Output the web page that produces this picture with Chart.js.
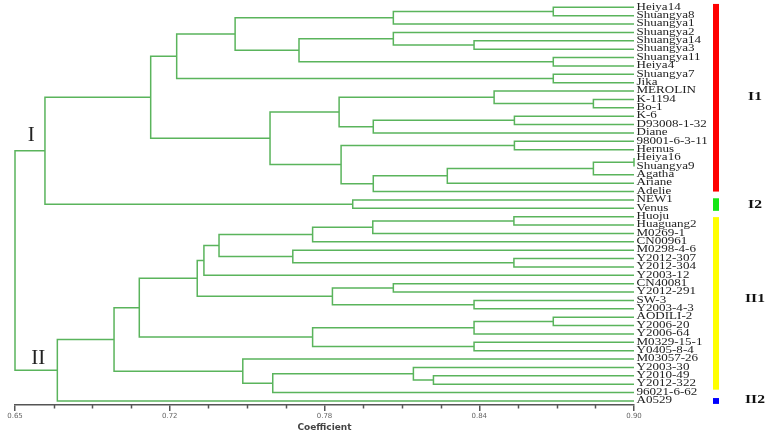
<!DOCTYPE html>
<html><head><meta charset="utf-8">
<script src="https://cdn.jsdelivr.net/npm/chart.js@4/dist/chart.umd.min.js"></script>
<style>html,body{margin:0;padding:0;background:#fff;}#wrap{width:773px;height:434px;}</style>
</head><body><div id="wrap"><canvas id="c" width="773" height="434"></canvas></div>
<script>
const leafLabels = ['Heiya14','Shuangya8','Shuangya1','Shuangya2','Shuangya14','Shuangya3','Shuangya11','Heiya4','Shuangya7','Jika','MEROLIN','K-1194','Bo-1','K-6','D93008-1-32','Diane','98001-6-3-11','Hernus','Heiya16','Shuangya9','Agatha','Ariane','Adelie','NEW1','Venus','Huoju','Huaguang2','M0269-1','CN00961','M0298-4-6','Y2012-307','Y2012-304','Y2003-12','CN40081','Y2012-291','SW-3','Y2003-4-3','AODILI-2','Y2006-20','Y2006-64','M0329-15-1','Y0405-8-4','M03057-26','Y2003-30','Y2010-49','Y2012-322','96021-6-62','A0529'];
// merges (linkage): children ids (leaf index, or 48 + merge index) and coefficient of the join
const mergeLeft  = [0,48,4,3,6,51,49,8,54, 11,10,13,59,58,16,18,63,64,65,62,61,56,23,69,
                    25,72,73,30,29,74,77,33,35,79,78,37,83,40,84,82, 44,43,89,42,87,92,71];
const mergeRight = [1,2,5,50,7,52,53,9,55, 12,57,14,15,60,17,19,20,21,22,66,67,68,24,70,
                    26,27,28,31,75,76,32,34,36,80,81,38,39,41,85,86, 45,88,46,90,91,47,93];
const mergeHeight = [0.8674,0.8028,0.8354,0.8028,0.8674,0.7647,0.7389,0.8674,0.7153,
                     0.8836,0.8435,0.8517,0.7947,0.7809,0.8517,0.9000,0.8836,0.8246,0.7947,0.7817,0.7530,0.7048,0.7864,0.6621,
                     0.8515,0.7945,0.7702,0.8515,0.7622,0.7324,0.7263,0.8028,0.8354,0.7782,0.7236,0.8674,0.8354,0.8354,0.7702,0.7002,
                     0.8190,0.8109,0.7541,0.7420,0.6900,0.6671,0.6500];
const tickValues = [0.65, 0.7125, 0.775, 0.8375, 0.90];
const tickLabels = ['0.65','0.72','0.78','0.84','0.90'];
const groupNames = ['I1','I2','II1','II2'];
const groupColors = ['#ff0000','#14e614','#ffff00','#0000ff'];
const groupTop = [-0.4, 22.8, 25.05, 46.65];
const groupBottom = [22.0, 24.3, 45.65, 47.35];
const groupLabelPos = [10.67, 23.57, 34.8, 46.86];
const clusterNames = ['I','II'];
const clusterX = [0.6566, 0.6594];
const clusterY = [15.14, 41.75];

const nLeaves = leafLabels.length;
const nodeX = [], nodeY = [];
for (let i = 0; i < nLeaves; i++) { nodeX.push(0.90); nodeY.push(i); }
const datasets = [];
for (let i = 0; i < mergeHeight.length; i++) {
  const l = mergeLeft[i], r = mergeRight[i], h = mergeHeight[i];
  nodeX.push(h); nodeY.push((nodeY[l] + nodeY[r]) / 2);
  datasets.push({
    data: [{x: nodeX[l], y: nodeY[l]}, {x: h, y: nodeY[l]}, {x: h, y: nodeY[r]}, {x: nodeX[r], y: nodeY[r]}],
    showLine: true, borderColor: '#5ab45c', borderWidth: 1.5, pointRadius: 0, tension: 0, clip: false
  });
}

const decor = {
  id: 'decor',
  afterDraw(chart) {
    const ctx = chart.ctx, xs = chart.scales.x, ys = chart.scales.y;
    const right = xs.getPixelForValue(0.90);
    const bottom = chart.chartArea.bottom;
    ctx.save();
    // minor ticks
    ctx.strokeStyle = '#555'; ctx.lineWidth = 1.5;
    for (let k = 0; k < tickValues.length - 1; k++) {
      for (let m = 1; m < 4; m++) {
        const v = tickValues[k] + (tickValues[k+1] - tickValues[k]) * m / 4;
        const px = Math.round(xs.getPixelForValue(v)) + 0.5;
        ctx.beginPath(); ctx.moveTo(px, bottom); ctx.lineTo(px, bottom + 3.5); ctx.stroke();
      }
    }
    // leaf labels
    ctx.fillStyle = '#222';
    ctx.font = '9.6px "Liberation Serif", "Times New Roman", serif';
    ctx.textBaseline = 'middle'; ctx.textAlign = 'left';
    leafLabels.forEach((t, i) => {
      ctx.save();
      ctx.translate(right + 2.5, ys.getPixelForValue(i) - 0.3);
      ctx.scale(1.36, 1);
      ctx.fillText(t, 0, 0);
      ctx.restore();
    });
    // group bars & labels
    groupNames.forEach((g, i) => {
      const y1 = ys.getPixelForValue(groupTop[i]), y2 = ys.getPixelForValue(groupBottom[i]);
      ctx.fillStyle = groupColors[i];
      ctx.fillRect(right + 79, y1, 6, y2 - y1);
      ctx.save();
      ctx.fillStyle = '#111';
      ctx.font = 'bold 12px "Liberation Serif", "Times New Roman", serif';
      ctx.textAlign = 'center'; ctx.textBaseline = 'middle';
      ctx.translate(right + 121, ys.getPixelForValue(groupLabelPos[i]));
      ctx.scale(1.3, 1);
      ctx.fillText(g, 0, 0);
      ctx.restore();
    });
    // cluster roman numerals
    ctx.fillStyle = '#222';
    ctx.font = '21px "Liberation Serif", "Times New Roman", serif';
    ctx.textAlign = 'center'; ctx.textBaseline = 'middle';
    clusterNames.forEach((t, i) => {
      ctx.fillText(t, xs.getPixelForValue(clusterX[i]), ys.getPixelForValue(clusterY[i]) + 1);
    });
    ctx.restore();
  }
};

new Chart(document.getElementById('c'), {
  type: 'scatter',
  data: { datasets },
  options: {
    responsive: false, animation: false, events: [],
    layout: { padding: { left: 15, right: 139, top: 0, bottom: 0 } },
    plugins: { legend: { display: false }, tooltip: { enabled: false } },
    scales: {
      y: { type: 'linear', reverse: true, min: -0.87, max: 47.48, display: false },
      x: {
        type: 'linear', min: 0.65, max: 0.90,
        afterBuildTicks: (s) => { s.ticks = tickValues.map(v => ({ value: v })); },
        afterFit: (s) => { s.height = 29; },
        ticks: {
          autoSkip: false, maxRotation: 0, padding: 1, color: '#666',
          font: { family: '"DejaVu Sans", sans-serif', size: 7 },
          callback: (v, i) => tickLabels[i]
        },
        grid: { drawOnChartArea: false, drawTicks: true, tickLength: 6, color: '#555', lineWidth: 1.5 },
        border: { display: true, color: '#555', width: 1.5 },
        title: { display: true, text: 'Coefficient', color: '#444',
          font: { family: '"DejaVu Sans", sans-serif', size: 9, weight: 'bold' }, padding: { top: 0, bottom: 1 } }
      }
    }
  },
  plugins: [decor]
});
</script></body></html>
